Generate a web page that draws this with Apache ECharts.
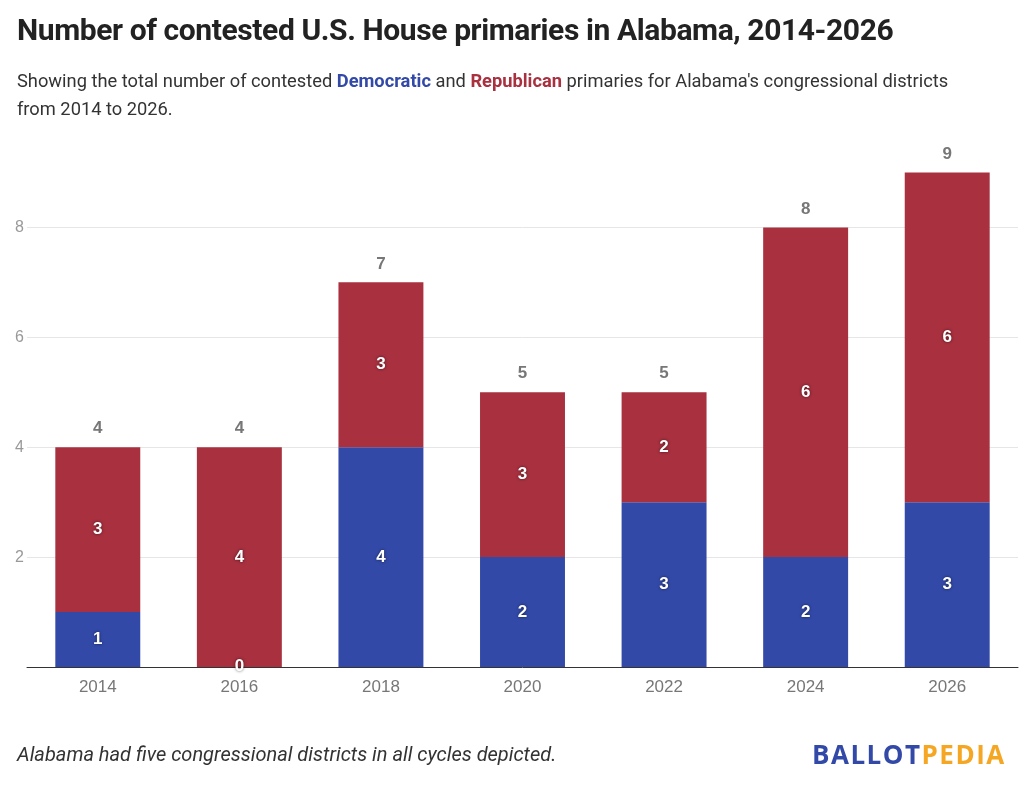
<!DOCTYPE html>
<html>
<head>
<meta charset="utf-8">
<script src="https://cdn.jsdelivr.net/npm/echarts@6/dist/echarts.min.js"></script>
<style>
  body { margin: 0; background: #fff; font-family: Roboto, sans-serif; }
  #title { position: absolute; left: 17px; top: 12px; font-size: 30px; font-weight: bold; color: #222; letter-spacing: -0.4px; }
  #sub { position: absolute; left: 17px; top: 67px; width: 950px; font-size: 18.3px; line-height: 28px; color: #333; }
  #note { position: absolute; left: 17px; top: 742px; font-size: 20px; font-style: italic; color: #333; }
  #logo { position: absolute; left: 812px; top: 736px; font-family: 'Open Sans', sans-serif; font-size: 26px; font-weight: bold; letter-spacing: 1.5px; }
  #chart { position: absolute; left: 0; top: 0; width: 1024px; height: 785px; }
</style>
</head>
<body>
<div id="chart"></div>
<div id="title">Number of contested U.S. House primaries in Alabama, 2014-2026</div>
<div id="sub">Showing the total number of contested <b style="color:#3249a8">Democratic</b> and <b style="color:#a8303f">Republican</b> primaries for Alabama's congressional districts from 2014 to 2026.</div>
<div id="note">Alabama had five congressional districts in all cycles depicted.</div>
<div id="logo"><span style="color:#3249a8">BALLOT</span><span style="color:#f5a623">PEDIA</span></div>
<script>
var years = ['2014', '2016', '2018', '2020', '2022', '2024', '2026'];
var dem = [1, 0, 4, 2, 3, 2, 3];
var rep = [3, 4, 3, 3, 2, 6, 6];
var totals = [4, 4, 7, 5, 5, 8, 9];

var myChart = echarts.init(document.getElementById('chart'));
var inLabel = {
    show: true,
    position: 'inside',
    color: '#fff',
    fontSize: 17,
    fontWeight: 'bold',
    textShadowColor: 'rgba(0,0,0,0.6)',
    textShadowBlur: 3
};
var option = {
    animation: false,
    grid: { left: 27, right: 6, top: 145, bottom: 118 },
    xAxis: {
        type: 'category',
        data: years,
        axisTick: { show: false },
        axisLine: { lineStyle: { color: '#333' } },
        axisLabel: { color: '#777', fontSize: 17, margin: 12 }
    },
    yAxis: {
        type: 'value',
        min: 0,
        max: 9.5,
        interval: 2,
        axisLabel: {
            color: '#999', fontSize: 16, margin: 0, align: 'left',
            padding: [0, 0, 0, -12],
            formatter: function(v) { return v === 0 || v > 9 ? '' : v; }
        },
        splitLine: { showMaxLine: false, lineStyle: { color: '#e6e6e6' } }
    },
    series: [
        {
            name: 'Democratic', type: 'bar', stack: 'a', barWidth: '60%',
            data: dem.map(function(v) {
                return v === 0 ? { value: 0, label: { position: 'insideBottom', distance: -8 } } : v;
            }),
            itemStyle: { color: '#3249a8' },
            label: inLabel
        },
        {
            name: 'Republican', type: 'bar', stack: 'a',
            data: rep,
            itemStyle: { color: '#a8303f' },
            label: inLabel
        },
        {
            name: 'Total', type: 'bar', stack: 'a',
            data: totals.map(function() { return 0; }),
            itemStyle: { color: 'transparent' },
            label: {
                show: true, position: 'top', distance: 10,
                color: '#777', fontSize: 17, fontWeight: 'bold',
                formatter: function(p) { return totals[p.dataIndex]; }
            }
        }
    ]
};
myChart.setOption(option);
</script>
</body>
</html>
